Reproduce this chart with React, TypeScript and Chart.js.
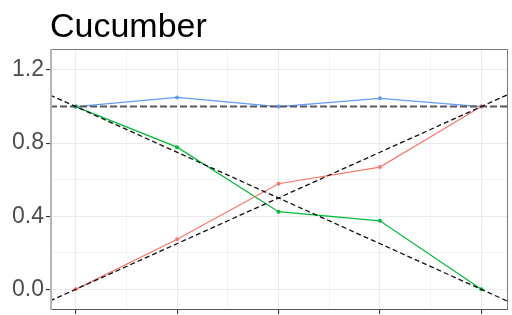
import React, { useEffect, useRef } from "react";
import { Chart, registerables } from "chart.js";

Chart.register(...registerables);

const titleText = "Cucumber";
const xPositions = [0, 1, 2, 3, 4];
const yTickLabels = ["0.0", "0.4", "0.8", "1.2"];
const yMajorTicks = [0, 0.4, 0.8, 1.2];
const yMinorTicks = [0.2, 0.6, 1.0];
const xMinorTicks = [0.5, 1.5, 2.5, 3.5];

const blueValues = [1.0, 1.05, 1.0, 1.045, 1.0];
const greenValues = [1.0, 0.778, 0.425, 0.375, 0.0];
const redValues = [0.0, 0.274, 0.578, 0.669, 1.0];

// reference lines (intercept, slope)
const refIntercepts = [1, 0, 1];
const refSlopes = [-0.25, 0.25, 0];
const refColors = ["#111111", "#111111", "#5a5a5a"];
const refWidths = [1.3, 1.3, 2];
const refDashes = [[5, 3], [5, 3], [7, 3]];

const X_MIN = -0.253;
const X_MAX = 4.263;
const Y_MIN = -0.113;
const Y_MAX = 1.315;

const titlePlugin = {
  id: "ggTitle",
  afterDraw(chart: any) {
    const ctx = chart.ctx;
    ctx.save();
    ctx.fillStyle = "#000000";
    ctx.font = "34px 'Liberation Sans', Arial, sans-serif";
    ctx.textBaseline = "alphabetic";
    ctx.textAlign = "left";
    ctx.fillText(titleText, chart.chartArea.left, 37);
    ctx.restore();
  },
};

const borderPlugin = {
  id: "panelBorder",
  afterDatasetsDraw(chart: any) {
    const { left, right, top, bottom } = chart.chartArea;
    const ctx = chart.ctx;
    ctx.save();
    ctx.strokeStyle = "#7a7a7a";
    ctx.lineWidth = 1;
    ctx.beginPath();
    ctx.moveTo(left, top + 0.5);
    ctx.lineTo(right - 0.5, top + 0.5);
    ctx.lineTo(right - 0.5, bottom);
    ctx.stroke();
    ctx.strokeStyle = "#555555";
    ctx.beginPath();
    ctx.moveTo(left, bottom - 0.5);
    ctx.lineTo(right, bottom - 0.5);
    ctx.stroke();
    ctx.strokeStyle = "#b5b5b5";
    ctx.lineWidth = 2;
    ctx.beginPath();
    ctx.moveTo(left + 1, top);
    ctx.lineTo(left + 1, bottom);
    ctx.stroke();
    ctx.restore();
  },
};

function makeSeries(values: number[]) {
  return values.map((v, i) => ({ x: xPositions[i], y: v }));
}

export default function App() {
  const ref = useRef<HTMLCanvasElement>(null);
  useEffect(() => {
    document.body.style.margin = "0";
    const seriesDefs = [
      { values: redValues, color: "#F8766D" },
      { values: greenValues, color: "#00BA38" },
      { values: blueValues, color: "#619CFF" },
    ];
    const dataSets: any[] = seriesDefs.map((s) => ({
      type: "line",
      data: makeSeries(s.values),
      borderColor: s.color,
      backgroundColor: s.color,
      borderWidth: 1.2,
      pointRadius: 2,
      pointBorderWidth: 0,
      pointHoverRadius: 2,
      tension: 0,
      order: 2,
      clip: 0,
    }));
    const refSets: any[] = refIntercepts.map((b, i) => ({
      type: "line",
      data: [X_MIN, X_MAX].map((x) => ({ x, y: b + refSlopes[i] * x })),
      borderColor: refColors[i],
      borderWidth: refWidths[i],
      borderDash: refDashes[i],
      pointRadius: 0,
      tension: 0,
      order: 1,
      clip: 0,
    }));
    const allX = [...xPositions, ...xMinorTicks].sort((a, b) => a - b);
    const allY = [...yMajorTicks, ...yMinorTicks].sort((a, b) => a - b);
    const chart = new Chart(ref.current!, {
      type: "line",
      data: { datasets: [...refSets, ...dataSets] },
      plugins: [titlePlugin, borderPlugin],
      options: {
        animation: false,
        responsive: false,
        maintainAspectRatio: false,
        events: [],
        layout: { padding: { top: 49, right: 4, left: 0, bottom: 0 } },
        plugins: { legend: { display: false }, tooltip: { enabled: false }, title: { display: false } },
        scales: {
          x: {
            type: "linear",
            min: X_MIN,
            max: X_MAX,
            afterBuildTicks: (scale: any) => {
              scale.ticks = allX.map((v) => ({ value: v }));
            },
            afterFit: (scale: any) => {
              scale.height = 5;
              scale.paddingLeft = 0;
              scale.paddingRight = 0;
              scale.paddingTop = 0;
              scale.paddingBottom = 0;
            },
            ticks: {
              display: false,
              autoSkip: false,
            },
            border: { display: false },
            grid: {
              color: "#EBEBEB",
              lineWidth: (c: any) => (Number.isInteger(c.tick?.value) ? 1.1 : 0.6),
              tickColor: (c: any) => (Number.isInteger(c.tick?.value) ? "#333333" : "rgba(0,0,0,0)"),
              tickLength: 4,
              drawTicks: true,
            },
          },
          y: {
            type: "linear",
            min: Y_MIN,
            max: Y_MAX,
            afterBuildTicks: (scale: any) => {
              scale.ticks = allY.map((v) => ({ value: v }));
            },
            afterFit: (scale: any) => {
              scale.width = 50;
              scale.paddingTop = 0;
              scale.paddingBottom = 0;
              scale.paddingLeft = 0;
              scale.paddingRight = 0;
            },
            ticks: {
              autoSkip: false,
              padding: 2,
              color: "#4D4D4D",
              font: { size: 23, family: "'Liberation Sans', Arial, sans-serif" },
              callback: (v: any) => {
                const idx = yMajorTicks.findIndex((m) => Math.abs(m - v) < 1e-6);
                return idx >= 0 ? yTickLabels[idx] : "";
              },
            },
            border: { display: false },
            grid: {
              color: "#EBEBEB",
              lineWidth: (c: any) =>
                yMajorTicks.some((m) => Math.abs(m - c.tick?.value) < 1e-6) ? 1.1 : 0.6,
              tickColor: (c: any) =>
                yMajorTicks.some((m) => Math.abs(m - c.tick?.value) < 1e-6) ? "#333333" : "rgba(0,0,0,0)",
              tickLength: 4,
            },
          },
        },
      } as any,
    });
    return () => chart.destroy();
  }, []);
  return (
    <div style={{ position: "absolute", left: 0, top: 0, width: 512, height: 315, background: "#fff" }}>
      <canvas ref={ref} width={512} height={315} style={{ width: 512, height: 315 }} />
    </div>
  );
}
